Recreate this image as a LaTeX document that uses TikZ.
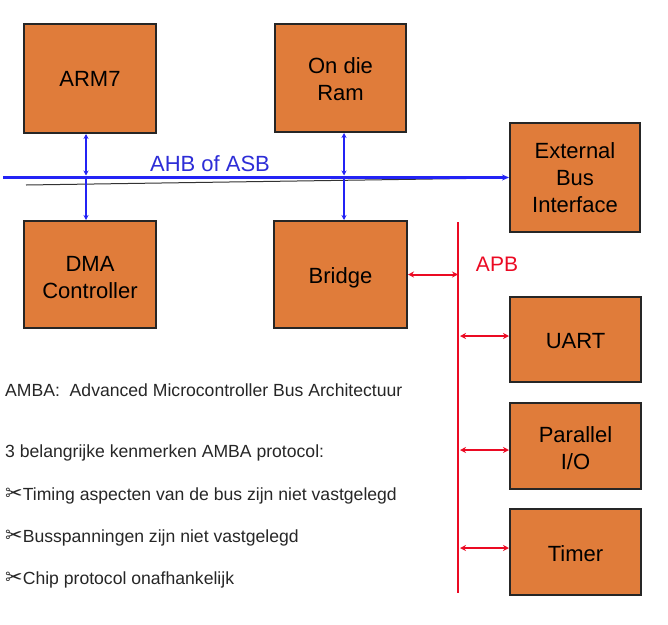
\documentclass[tikz,border=0pt]{standalone}
\usepackage{fontspec}
\setmainfont{Liberation Sans}
\newfontfamily\symfont{DejaVu Sans}
\usetikzlibrary{arrows.meta}
\definecolor{boxfill}{RGB}{224,124,58}
\definecolor{busblue}{RGB}{35,35,245}
\definecolor{txtblue}{RGB}{45,45,215}
\definecolor{apbred}{RGB}{235,10,35}
\begin{document}
\begin{tikzpicture}[x=1pt,y=-1pt,
  blk/.style={draw=black!85,line width=2pt,fill=boxfill,align=center,
    font=\fontsize{22}{27}\selectfont,inner sep=0pt},
  blktext/.style={align=center,font=\fontsize{22}{27}\selectfont,inner sep=0pt},
  bluebus/.style={draw=busblue,line width=2.2pt},
  blueline/.style={draw=busblue,line width=1.8pt},
  blueconn/.style={blueline,{Stealth[length=5pt,width=5pt]}-{Stealth[length=5pt,width=5pt]}},
  blueone/.style={blueline,-{Stealth[length=5pt,width=5pt]}},
  redconn/.style={draw=apbred,line width=2pt,{Stealth[length=6pt,width=6pt,open]}-{Stealth[length=6pt,width=6pt,open]}},
  note/.style={anchor=west,inner sep=0pt,font=\fontsize{17.6}{20}\selectfont,text=black!85}]
\useasboundingbox (0,0) rectangle (668,624);
% boxes
\node[blk,minimum width=132pt,minimum height=109pt] (arm) at (90,78.5) {ARM7};
\node[blk,minimum width=131pt,minimum height=108pt,label={[blktext,yshift=-1pt]center:On die\\Ram}] (ram) at (340.5,78) {};
\node[blk,minimum width=130pt,minimum height=109pt] (ebi) at (575,177.5) {External\\Bus\\Interface};
\node[blk,minimum width=132pt,minimum height=107pt,label={[blktext,yshift=-3.5pt]center:DMA\\Controller}] (dma) at (90,274.5) {};
\node[blk,minimum width=133pt,minimum height=107pt,label={[blktext,yshift=-3.5pt]center:Bridge}] (bridge) at (340.5,274.5) {};
\node[blk,minimum width=131pt,minimum height=85pt,label={[blktext,yshift=-2pt]center:UART}] (uart) at (575.5,339.5) {};
\node[blk,minimum width=131pt,minimum height=86pt,label={[blktext,yshift=-2pt]center:Parallel\\I/O}] (pio) at (575.5,446) {};
\node[blk,minimum width=131pt,minimum height=86pt,label={[blktext,yshift=-2pt]center:Timer}] (timer) at (575.5,552) {};
% AHB bus
\coordinate (busstart) at (3,177.5);
\coordinate (tapA) at (86,177.5);
\coordinate (tapB) at (344,177.5);
\coordinate (linestart) at (26,185);
\coordinate (lineend) at (500,178);
\draw[black!80,line width=1pt] (linestart) -- (lineend);
\draw[bluebus,-{Stealth[length=7pt,width=6pt]}] (busstart) -- (ebi.west);
\node[text=txtblue,font=\fontsize{22}{26}\selectfont,inner sep=0pt] (ahb) at (210,164) {AHB of ASB};
\draw[blueconn] (tapA |- arm.south) -- ([yshift=2pt]tapA);
\draw[blueone] (tapA) -- (tapA |- dma.north);
\draw[blueconn] (tapB |- ram.south) -- ([yshift=2pt]tapB);
\draw[blueone] (tapB) -- (tapB |- bridge.north);
% APB bus
\coordinate (apbtop) at (458,222);
\coordinate (apbbot) at (458,593);
\draw[apbred,line width=2pt] (apbtop) -- (apbbot);
\node[text=apbred,font=\fontsize{21}{25}\selectfont,inner sep=0pt] (apb) at (497,264) {APB};
\coordinate (tapU) at (460,336);
\coordinate (tapP) at (460,450);
\coordinate (tapT) at (460,548);
\draw[redconn] (bridge.east) -- (bridge.east -| apbtop);
\draw[redconn] (tapU) -- (tapU -| uart.west);
\draw[redconn] (tapP) -- (tapP -| pio.west);
\draw[redconn] (tapT) -- (tapT -| timer.west);
% notes
\node[note] (n1) at (5,390) {AMBA:\ \ Advanced Microcontroller Bus Architectuur};
\node[note] (n2) at (5,453) {3 belangrijke kenmerken AMBA protocol:};
\node[note] (n3) at (5,496) {{\symfont\fontsize{21}{18}\selectfont ✂}Timing aspecten van de bus zijn niet vastgelegd};
\node[note] (n4) at (5,538) {{\symfont\fontsize{21}{18}\selectfont ✂}Busspanningen zijn niet vastgelegd};
\node[note] (n5) at (5,580) {{\symfont\fontsize{21}{18}\selectfont ✂}Chip protocol onafhankelijk};
\end{tikzpicture}
\end{document}
